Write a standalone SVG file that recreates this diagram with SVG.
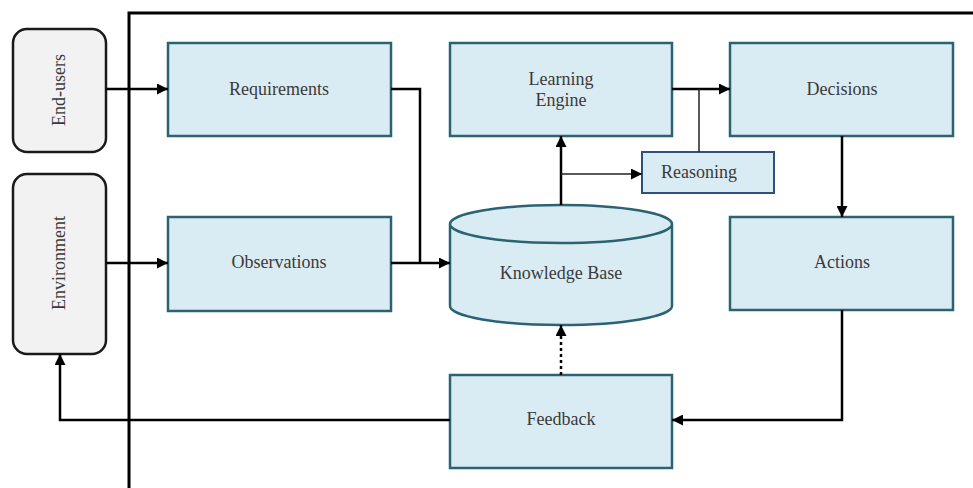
<svg xmlns="http://www.w3.org/2000/svg" width="973" height="488" viewBox="0 0 973 488">
<defs>
<style>
.box{fill:#daecf3;stroke:#2b6373;stroke-width:2.5}
.ext{fill:#f2f2f2;stroke:#1a1a1a;stroke-width:2.5}
.lbl{font-family:"Liberation Serif","Times New Roman",serif;font-size:18px;fill:#3a3a3a;text-anchor:middle}
.ln{fill:none;stroke:#000;stroke-width:2.5}
.thin{fill:none;stroke:#222;stroke-width:1.5}
</style>
<marker id="ah" viewBox="0 0 10 10" refX="10" refY="5" markerWidth="12" markerHeight="11" markerUnits="userSpaceOnUse" orient="auto"><path d="M0,0 L10,5 L0,10 z" fill="#000"/></marker>
</defs>
<rect width="973" height="488" fill="#fff"/>
<g id="frame"><path d="M129,488 V13 H973" fill="none" stroke="#000" stroke-width="3"/></g>
<g id="end-users"><rect class="ext" x="13" y="29" width="93" height="123" rx="14"/><text class="lbl" transform="translate(65,90) rotate(-90)">End-users</text></g>
<g id="environment"><rect class="ext" x="13" y="174" width="93" height="180" rx="14"/><text class="lbl" transform="translate(65,263) rotate(-90)">Environment</text></g>
<g id="requirements"><rect class="box" x="168" y="43" width="223" height="93"/><text class="lbl" x="279" y="95">Requirements</text></g>
<g id="observations"><rect class="box" x="168" y="217" width="223" height="94"/><text class="lbl" x="279" y="268">Observations</text></g>
<g id="learning-engine"><rect class="box" x="450" y="43" width="222" height="93"/><text class="lbl" x="561" y="85">Learning</text><text class="lbl" x="561" y="106">Engine</text></g>
<g id="decisions"><rect class="box" x="730" y="43" width="223" height="93"/><text class="lbl" x="842" y="95">Decisions</text></g>
<g id="reasoning"><rect x="642" y="152" width="132" height="41" fill="#daecf3" stroke="#2f4f7f" stroke-width="2"/><text class="lbl" x="699" y="178">Reasoning</text></g>
<g id="knowledge-base"><path class="box" d="M450,224 V306 A111,19 0 0 0 672,306 V224 A111,19 0 0 0 450,224 A111,19 0 0 0 672,224"/><text class="lbl" x="561" y="279">Knowledge Base</text></g>
<g id="actions"><rect class="box" x="730" y="217" width="223" height="93"/><text class="lbl" x="842" y="268">Actions</text></g>
<g id="feedback"><rect class="box" x="450" y="375" width="222" height="93"/><text class="lbl" x="561" y="425">Feedback</text></g>
<g id="connectors">
<path class="ln" d="M106,89 H168" marker-end="url(#ah)"/>
<path class="ln" d="M106,263 H168" marker-end="url(#ah)"/>
<path class="ln" d="M391,89 H420 V263"/>
<path class="ln" d="M391,263 H450" marker-end="url(#ah)"/>
<path class="ln" d="M561,205 V136" marker-end="url(#ah)"/>
<path class="thin" d="M561,174 H642" marker-end="url(#ah)"/>
<path class="ln" d="M672,89 H730" marker-end="url(#ah)"/>
<path class="thin" d="M699,89 V152"/>
<path class="ln" d="M842,136 V217" marker-end="url(#ah)"/>
<path class="ln" d="M842,310 V420 H672" marker-end="url(#ah)"/>
<path class="ln" d="M561,375 V325" stroke-dasharray="3,3" marker-end="url(#ah)"/>
<path class="ln" d="M450,420 H60 V354" marker-end="url(#ah)"/>
</g>
</svg>
